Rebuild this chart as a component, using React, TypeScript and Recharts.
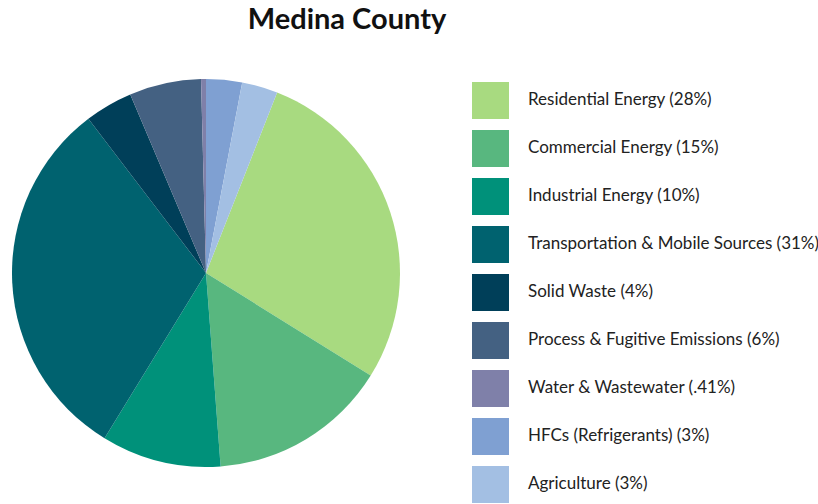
import { PieChart, Pie, Cell, Legend } from "recharts";

const categories = [
  "Residential Energy",
  "Commercial Energy",
  "Industrial Energy",
  "Transportation & Mobile Sources",
  "Solid Waste",
  "Process & Fugitive Emissions",
  "Water & Wastewater",
  "HFCs (Refrigerants)",
  "Agriculture",
];
const shares = [28, 15, 10, 31, 4, 6, 0.41, 3, 3];
const shareLabels = ["28%", "15%", "10%", "31%", "4%", "6%", ".41%", "3%", "3%"];
const colors = ["#a8da80", "#58b77f", "#00917a", "#00626f", "#003f59", "#446182", "#7f80a9", "#7fa0d2", "#a3bfe3"];

const data = categories.map((name, i) => ({ name, value: shares[i], label: `${name} (${shareLabels[i]})` }));

// pie begins at 12 o'clock with HFCs + Agriculture, so Residential starts after them
const lead = ((shares[7] + shares[8]) / shares.reduce((s, v) => s + v, 0)) * 360;
const START = 90 - lead;

const FONT = "'Source Sans Pro', Lato, 'Open Sans', sans-serif";

function LegendBox() {
  return (
    <div style={{ position: "absolute", left: 472, top: 76, fontFamily: FONT }}>
      {data.map((d, i) => (
        <div key={d.name} style={{ display: "flex", alignItems: "center", height: 48 }}>
          <div style={{ width: 37, height: 37, background: colors[i], flex: "none" }} />
          <span style={{ marginLeft: 19, fontSize: 17, color: "#222", whiteSpace: "nowrap", position: "relative", top: -2 }}>
            {d.label}
          </span>
        </div>
      ))}
    </div>
  );
}

export default function App() {
  return (
    <div style={{ position: "absolute", left: 0, top: 0, width: 818, height: 504, background: "#fff", overflow: "hidden" }}>
      <div
        style={{
          position: "absolute",
          left: 0,
          width: 694,
          top: 0,
          textAlign: "center",
          fontFamily: FONT,
          fontWeight: 700,
          fontSize: 29,
          color: "#111",
        }}
      >
        Medina County
      </div>
      <PieChart width={818} height={504} margin={{ top: 0, right: 0, bottom: 0, left: 0 }} style={{ position: "absolute", left: 0, top: 0 }}>
        <Pie
          data={data}
          dataKey="value"
          nameKey="name"
          cx={206}
          cy={273}
          outerRadius={194}
          startAngle={START}
          endAngle={START - 360}
          stroke="none"
          isAnimationActive={false}
        >
          {data.map((d, i) => (
            <Cell key={d.name} fill={colors[i]} />
          ))}
        </Pie>
        <Legend content={() => null} />
      </PieChart>
      <LegendBox />
    </div>
  );
}
